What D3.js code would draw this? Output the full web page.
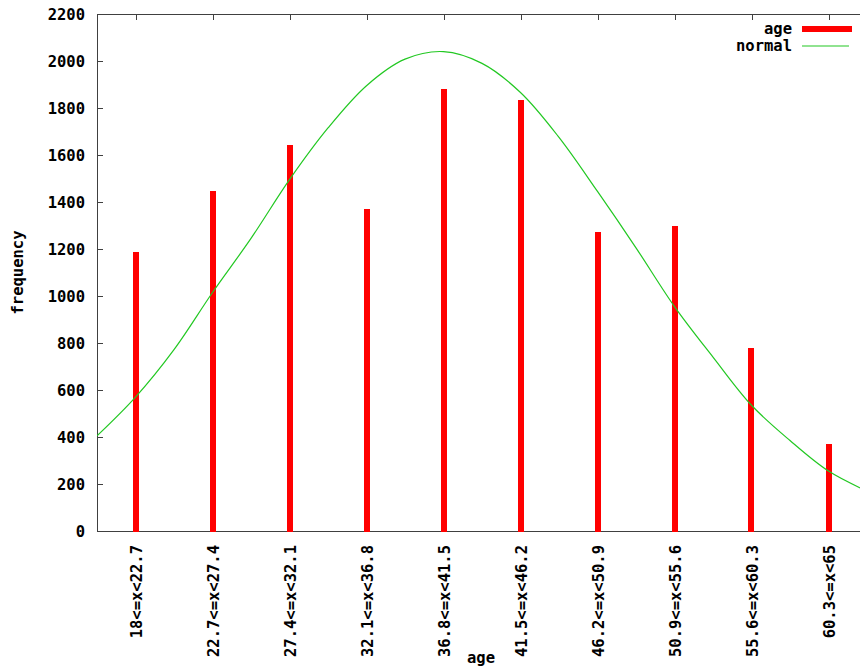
<!DOCTYPE html>
<html>
<head>
<meta charset="UTF-8">
<title>age frequency</title>
<script src="https://d3js.org/d3.v7.min.js"></script>
<style>
  body { margin: 0; padding: 0; background: #fff; }
  svg text { font-family: "DejaVu Sans Mono", "Liberation Mono", monospace; font-weight: bold; font-size: 15.5px; fill: #000; }
  .frame { fill: none; stroke: #404040; stroke-width: 1; shape-rendering: crispEdges; }
  .axis line { stroke: #404040; shape-rendering: crispEdges; }
  .axis path { display: none; }
</style>
</head>
<body>
<svg id="chart"></svg>
<script>
// age bins (x tick labels)
const categories = ["18<=x<22.7", "22.7<=x<27.4", "27.4<=x<32.1", "32.1<=x<36.8", "36.8<=x<41.5",
                    "41.5<=x<46.2", "46.2<=x<50.9", "50.9<=x<55.6", "55.6<=x<60.3", "60.3<=x<65"];
// frequency per bin
const ageCounts = [1188, 1445, 1642, 1370, 1880, 1834, 1272, 1296, 778, 372];
// normal curve, read at half-bin steps
const normalPos = [-0.5, 0, 0.5, 1, 1.5, 2, 2.5, 3, 3.5, 4, 4.5, 5, 5.5, 6, 6.5, 7, 7.5, 8, 8.5, 9, 9.5];
const normalVal = [405, 570, 772, 1015, 1245, 1495, 1715, 1895, 2008, 2040, 1990, 1866, 1675, 1445, 1205, 955, 740, 535, 385, 255, 170];
const yTicks = [0, 200, 400, 600, 800, 1000, 1200, 1400, 1600, 1800, 2000, 2200];

const W = 860, H = 668;
const pLeft = 97, pTop = 14, pBottom = 531;
const pRight = 867; // plot box runs past the window edge

const svg = d3.select("#chart").attr("width", W).attr("height", H);

const x = d3.scaleLinear().domain([-0.5, categories.length - 0.5]).range([pLeft, pRight]);
const y = d3.scaleLinear().domain([0, 2200]).range([pBottom, pTop]);

svg.append("defs").append("clipPath").attr("id", "plot")
  .append("rect").attr("x", pLeft).attr("y", pTop).attr("width", pRight - pLeft).attr("height", pBottom - pTop);

// y axis, ticks pointing inward
svg.append("g")
  .attr("class", "axis")
  .attr("transform", `translate(${pLeft},0)`)
  .call(d3.axisLeft(y).tickValues(yTicks).tickSize(-6).tickPadding(12).tickFormat(d3.format("d")))
  .selectAll("text").attr("dy", "0.35em");

// mirrored ticks on top edge
svg.append("g")
  .attr("class", "axis")
  .attr("transform", `translate(0,${pTop})`)
  .call(d3.axisTop(x).tickValues(d3.range(categories.length)).tickSize(-6).tickFormat(""));

// bottom category labels, rotated
svg.append("g")
  .attr("class", "axis")
  .attr("transform", `translate(0,${pBottom})`)
  .call(d3.axisBottom(x).tickValues(d3.range(categories.length)).tickSize(-6).tickFormat(i => categories[i]))
  .selectAll("text")
  .attr("transform", "rotate(-90)")
  .attr("x", -14)
  .attr("y", 0.5)
  .attr("dy", "0.35em")
  .style("text-anchor", "end");

// frame
svg.append("rect").attr("class", "frame")
  .attr("x", pLeft).attr("y", pTop).attr("width", pRight - pLeft).attr("height", pBottom - pTop);

// impulses
svg.append("g").selectAll("rect")
  .data(ageCounts)
  .join("rect")
  .attr("x", (d, i) => Math.round(x(i)) - 3)
  .attr("width", 6)
  .attr("y", d => Math.round(y(d)))
  .attr("height", d => pBottom + 1 - Math.round(y(d)))
  .attr("fill", "#ff0000");

// normal curve
const line = d3.line()
  .x((d, i) => x(normalPos[i]))
  .y(d => y(d))
  .curve(d3.curveCatmullRom);

svg.append("path")
  .datum(normalVal)
  .attr("clip-path", "url(#plot)")
  .attr("fill", "none")
  .attr("stroke", "#22c822")
  .attr("stroke-width", 1.2)
  .attr("d", line);

// axis titles
svg.append("text")
  .attr("transform", `translate(18,${(pTop + pBottom) / 2}) rotate(-90)`)
  .attr("text-anchor", "middle")
  .attr("dy", "0.35em")
  .text("frequency");

svg.append("text")
  .attr("x", 481).attr("y", 658)
  .attr("text-anchor", "middle")
  .attr("dy", "0.35em")
  .text("age");

// legend
const legend = [
  { label: "age", color: "#ff0000", width: 6, x2: 852 },
  { label: "normal", color: "#22c822", width: 1.2, x2: 849 }
];
const lg = svg.append("g").selectAll("g").data(legend).join("g")
  .attr("transform", (d, i) => `translate(0,${29 + i * 17})`);
lg.append("text").attr("x", 792).attr("dy", "0.35em").attr("text-anchor", "end").text(d => d.label);
lg.append("line").attr("x1", 802).attr("x2", d => d.x2).attr("y1", 0).attr("y2", 0)
  .attr("stroke", d => d.color).attr("stroke-width", d => d.width);
</script>
</body>
</html>
